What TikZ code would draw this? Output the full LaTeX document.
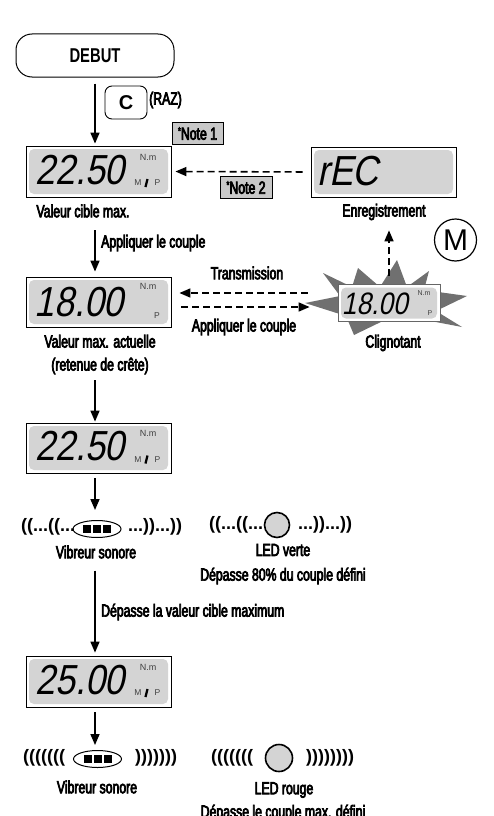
\documentclass[tikz,border=0pt]{standalone}
\usepackage{fontspec}
\setmainfont{Liberation Sans}[FakeStretch=0.70, FakeBold=4]
\newfontfamily\boldcond{Liberation Sans Bold}[FakeStretch=0.74]
\newfontfamily\lcdfont{Liberation Sans}[FakeSlant=0.2,FakeStretch=0.85]
\newfontfamily\plainsans{Liberation Sans}
\usetikzlibrary{arrows.meta,shapes.geometric}
\definecolor{lcdgrey}{RGB}{212,212,212}
\definecolor{notegrey}{RGB}{200,200,200}
\definecolor{stargrey}{RGB}{112,112,112}
\begin{document}
\begin{tikzpicture}[x=1pt,y=-1pt,
  lab/.style={font=\fontsize{17.5}{23}\selectfont, inner sep=0pt, align=center},
  arr/.style={-{Triangle[length=11pt,width=9pt]}, line width=1.6pt},
  darr/.style={arr, dash pattern=on 7pt off 4pt},
  lcd/.style={draw, line width=0.8pt, fill=white, minimum width=145pt, minimum height=50pt, inner sep=0pt,
     path picture={\fill[lcdgrey, rounded corners=5pt] ([shift={(3pt,-3pt)}]path picture bounding box.north west) rectangle ([shift={(-3pt,3pt)}]path picture bounding box.south east);}},
  digits/.style={font=\lcdfont\fontsize{42}{42}\selectfont, inner sep=0pt, anchor=east},
  unit/.style={font=\plainsans\fontsize{9}{10}\selectfont, inner sep=0pt, text=black!75},
  mp/.style={font=\plainsans\fontsize{8.5}{9}\selectfont, inner sep=0pt, text=black!75},
  mbar/.style={line width=2.2pt},
  notebox/.style={draw, fill=notegrey, line width=0.6pt, inner sep=1pt, minimum height=22pt, font=\fontsize{17.5}{19}\selectfont},
  parens/.style={font=\plainsans\bfseries\fontsize{18}{20}\selectfont, inner sep=0pt, anchor=west},
  buzz/.style={ellipse, draw, line width=1pt, fill=white, minimum width=48pt, minimum height=17pt, inner sep=0pt},
  led/.style={circle, draw, line width=1.6pt, fill=lcdgrey, minimum size=25pt, inner sep=0pt}
]
\useasboundingbox (0,0) rectangle (493,816);

% start
\node[draw, line width=1pt, rounded corners=16pt, minimum width=158pt, minimum height=43pt,
      font=\boldcond\fontsize{20}{20}\selectfont] (debut) at (95,55.5) {DEBUT};
\node[draw, line width=0.9pt, rounded corners=7pt, minimum width=42pt, minimum height=33pt,
      font=\plainsans\bfseries\fontsize{20}{20}\selectfont] (cbtn) at (126,102.5) {C};
\node[lab, anchor=west] (raz) at (149,100) {(RAZ)};
\node[notebox, minimum width=51pt] (note1) at (197.5,133.5) {\raisebox{5pt}{\fontsize{11}{11}\selectfont *}Note 1};

% display 1
\node[lcd, minimum height=51pt] (d1) at (98.5,171.5) {};
\draw[arr, shorten <=6pt, shorten >=2pt] (debut.south) -- (debut.south |- d1.north);
\node[digits] (t1) at (125,170) {22.50};
\node[unit] (u1) at (148,157) {N.m};
\node[mp] (m1) at (138,183) {M};
\draw[mbar] (145.5,187) -- (147.5,179);
\node[mp] (p1) at (157.5,183) {P};
\node[lab] (vcm) at (83,211) {Valeur cible max.};

% rEC display
\node[lcd] (rec) at (383.5,172) {};
\node[digits, anchor=west] (trec) at (317,171.5) {rEC};
\node[lab] (enreg) at (384,212) {Enregistrement};
\node[notebox, minimum width=52pt] (note2) at (246,187.5) {\raisebox{5pt}{\fontsize{11}{11}\selectfont *}Note 2};
\draw[darr, shorten <=8pt, shorten >=4pt] (rec.west) -- (d1.east);

% M button
\node[circle, draw, line width=1.2pt, minimum size=42pt, inner sep=0pt,
      font=\plainsans\fontsize{30}{30}\selectfont] (mbtn) at (455.5,240) {M};

% blinking display
\fill[stargrey] (305,303) -- (340,296) -- (323,273) -- (352,287) -- (358,268) -- (380,287)
  -- (397,260) -- (407,287) -- (429,271) -- (424,290) -- (467,296) -- (436,311)
  -- (462,327) -- (420,319) -- (385,320) -- (354,335) -- (346,316) -- cycle;
\node[lcd, draw=black!60, minimum width=102pt, minimum height=37pt] (blink) at (389,303) {};
\node[digits, font=\lcdfont\fontsize{31}{31}\selectfont] (tb) at (408,303.5) {18.00};
\node[unit, font=\plainsans\fontsize{7}{7}\selectfont] (ub) at (424,293) {N.m};
\node[unit, font=\plainsans\fontsize{7}{7}\selectfont] (pb) at (430,313) {P};
\node[lab] (clign) at (393,343) {Clignotant};
\draw[darr, shorten <=8pt, shorten >=10pt] (blink.north) -- (blink.north |- enreg.south);

% display 2
\node[lcd] (d2) at (98.5,302) {};
\draw[arr, shorten <=33pt, shorten >=5pt] (d1.south -| debut.south) -- (d2.north -| debut.south);
\node[lab, anchor=west] (app1) at (101,243) {Appliquer le couple};
\node[digits] (t2) at (124,302) {18.00};
\node[unit] (u2) at (148,286) {N.m};
\node[mp] (p2) at (157,316) {P};
\node[lab] (vma) at (100,354.5) {Valeur max. actuelle\\(retenue de crête)};

\node[lab] (trans) at (247,273) {Transmission};
\node[lab] (app2) at (244,327) {Appliquer le couple};
\draw[darr, shorten <=30pt, shorten >=8pt] ([yshift=10pt]blink.west) -- ([yshift=10pt]blink.west -| d2.east);
\draw[darr, shorten <=10pt, shorten >=28pt] ([yshift=-5pt]d2.east) -- ([yshift=-5pt]d2.east -| blink.west);

% display 3
\node[lcd] (d3) at (98.5,448) {};
\draw[arr, shorten <=53pt, shorten >=1pt] (d2.south -| debut.south) -- (d3.north -| debut.south);
\node[digits] (t3) at (125,446.5) {22.50};
\node[unit] (u3) at (148,433.5) {N.m};
\node[mp] (m3) at (138,459.5) {M};
\draw[mbar] (145.5,463.5) -- (147.5,455.5);
\node[mp] (p3) at (157.5,459.5) {P};

% buzzer / LED row 1
\node[buzz] (bz1) at (97,529) {\rule{8pt}{8pt}\kern2pt\rule{8pt}{8pt}\kern2pt\rule{8pt}{8pt}};
\draw[arr, shorten <=5pt, shorten >=10pt] (d3.south -| debut.south) -- (bz1.north -| debut.south);
\node[parens] (pl1) at (21,527) {((...((...};
\node[parens] (pr1) at (128,527) {...))...))};
\node[led] (led1) at (277,525) {};
\node[parens] (ll1) at (209,525) {((...((...};
\node[parens] (lr1) at (298,525) {...))...))};
\node[lab] (vib1) at (96,552) {Vibreur sonore};
\node[lab] (ledv) at (283,550) {LED verte};
\node[lab] (d80) at (283,576) {Dépasse 80\% du couple défini};

% display 4
\node[lcd, minimum height=51pt] (d4) at (98.5,681.5) {};
\draw[arr, shorten <=12pt, shorten >=3pt] (vib1.south -| debut.south) -- (d4.north -| debut.south);
\node[lab, anchor=west] (dvc) at (101,612) {Dépasse la valeur cible maximum};
\node[digits] (t4) at (125,680) {25.00};
\node[unit] (u4) at (148,667) {N.m};
\node[mp] (m4) at (138,693) {M};
\draw[mbar] (145.5,697) -- (147.5,689);
\node[mp] (p4) at (157.5,693) {P};

% buzzer / LED row 2
\node[buzz] (bz2) at (97.5,759) {\rule{8pt}{8pt}\kern2pt\rule{8pt}{8pt}\kern2pt\rule{8pt}{8pt}};
\draw[arr, shorten <=5pt, shorten >=5pt] (d4.south -| debut.south) -- (bz2.north -| debut.south);
\node[parens] (pl2) at (23,758) {(((((((};
\node[parens] (pr2) at (135,758) {)))))))};
\node[led, minimum size=27pt] (led2) at (279,758) {};
\node[parens] (ll2) at (211,758) {(((((((};
\node[parens] (lr2) at (306,758) {))))))))};
\node[lab] (vib2) at (97,787) {Vibreur sonore};
\node[lab] (ledr) at (284,790) {LED rouge};
\node[lab] (dmax) at (283,813) {Dépasse le couple max. défini};
\end{tikzpicture}
\end{document}
